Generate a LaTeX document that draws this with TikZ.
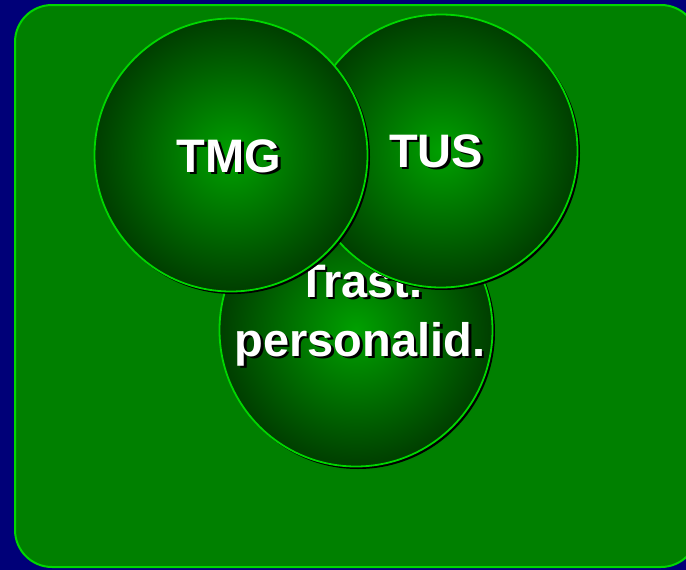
\documentclass[tikz,border=0pt]{standalone}
\usepackage{fontspec}
\setmainfont{Liberation Sans}
\definecolor{navybg}{RGB}{0,0,120}
\definecolor{panel}{RGB}{0,128,0}
\definecolor{rim}{RGB}{0,215,0}
\definecolor{ballin}{RGB}{0,160,0}
\definecolor{ballout}{RGB}{0,62,0}
\pgfdeclareradialshading{ballglow}{\pgfpoint{0bp}{0bp}}{color(0bp)=(ballin); color(25bp)=(ballout); color(50bp)=(ballout)}
\newcommand\shtext[1]{\makebox[0pt][l]{\hspace{2.5pt}\raisebox{-2.5pt}{\color{black}#1}}#1}
\tikzset{
  ball/.style={circle, minimum size=273pt, inner sep=0pt, shading=ballglow, draw=rim, line width=1.8pt},
  ballshadow/.style={circle, minimum size=274pt, inner sep=0pt, fill=black},
  lbl/.style={font=\fontsize{47}{56}\selectfont\bfseries, text=white, inner sep=0pt, anchor=base}
}
\begin{document}
\begin{tikzpicture}[x=1pt,y=-1pt]
\useasboundingbox (0,0) rectangle (686,570);
\clip (0,0) rectangle (686,570);
\fill[navybg] (0,0) rectangle (686,570);
\draw[fill=panel, draw=rim, line width=2pt, rounded corners=37pt] (15,5) rectangle (698,567);
% bottom circle
\node[ballshadow] (s3) at (358,332) {};
\node[ball] (c3) at (356,330) {};
\node[lbl] (t3) at (360,297) {\shtext{Trast.}};
\node[lbl] (t4) at (360,356) {\shtext{personalid.}};
% TUS circle
\node[ballshadow] (s2) at (443,153) {};
\node[ball] (c2) at (441,151) {};
\node[lbl] (t2) at (436,167) {\shtext{TUS}};
% TMG circle
\node[ballshadow] (s1) at (233,157) {};
\node[ball] (c1) at (231,155) {};
\node[lbl] (t1) at (229,172) {\shtext{TMG}};
\end{tikzpicture}
\end{document}
